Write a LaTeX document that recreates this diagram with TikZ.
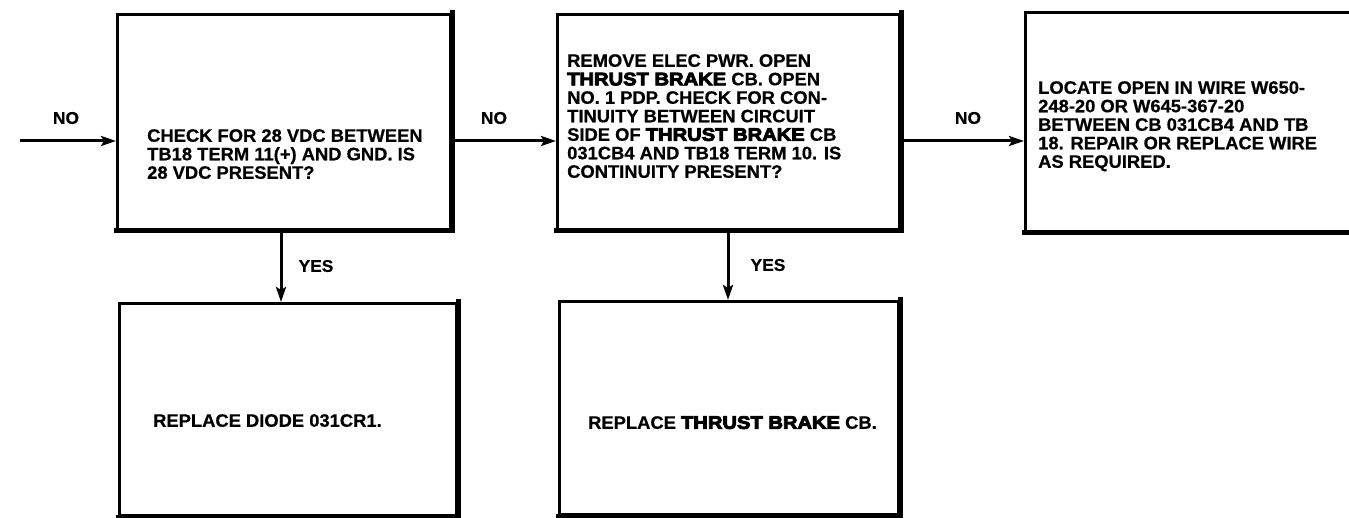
\documentclass[tikz,border=0pt]{standalone}
\usepackage{fontspec}
\setmainfont{Liberation Sans}[BoldFeatures={FakeBold=0.6,FakeStretch=1.02}]
\newfontfamily\heavyfont[FakeBold=5,FakeStretch=1.12]{Liberation Sans Bold}
\usetikzlibrary{arrows.meta}
\newcommand{\TB}{{\heavyfont THRUST BRAKE}}
\begin{document}
\begin{tikzpicture}[x=1pt,y=-1pt,
  box/.style={draw,line width=3pt,inner sep=0pt,anchor=north west},
  edge/.style={line width=5pt,line cap=rect},
  txt/.style={inner sep=0pt,anchor=north west,align=left,font=\bfseries\fontsize{18}{18.5}\selectfont},
  lbl/.style={inner sep=0pt,font=\bfseries\fontsize{17}{18}\selectfont},
  arr/.style={line width=3pt,-{Stealth[length=15pt,width=10pt,inset=3pt]}}]
\useasboundingbox (0,0) rectangle (1349,518);
% boxes
\node[box,minimum width=333pt,minimum height=215pt] (b1) at (116,13) {};
\node[box,minimum width=342pt,minimum height=215pt] (b2) at (556,13) {};
\node[box,minimum width=345pt,minimum height=219pt] (b3) at (1024,11) {};
\node[box,minimum width=337pt,minimum height=212pt] (b4) at (118,302) {};
\node[box,minimum width=339pt,minimum height=213pt] (b5) at (558,300) {};
\foreach \b in {b1,b2,b4,b5}{\draw[edge] (\b.north east) -- (\b.south east) -- (\b.south west);}
\draw[edge] (b3.south east) -- (b3.south west);
% texts
\node[txt] (t1) at (147,129) {CHECK FOR 28 VDC BETWEEN\\TB18 TERM 11(+) AND GND. IS\\28 VDC PRESENT?};
\node[txt] (t2) at (567,54) {REMOVE ELEC PWR. OPEN\\\TB{} CB. OPEN\\NO. 1 PDP. CHECK FOR CON-\\TINUITY BETWEEN CIRCUIT\\SIDE OF \TB{} CB\\031CB4 AND TB18 TERM 10. IS\\CONTINUITY PRESENT?};
\node[txt] (t3) at (1038,81) {LOCATE OPEN IN WIRE W650-\\248-20 OR W645-367-20\\BETWEEN CB 031CB4 AND TB\\18. REPAIR OR REPLACE WIRE\\AS REQUIRED.};
\node[txt] (t4) at (153,414) {REPLACE DIODE 031CR1.};
\node[txt] (t5) at (588,416) {REPLACE \TB{} CB.};
% connectors
\coordinate (in) at (20,141);
\draw[arr] (in) -- (in -| b1.west);
\draw[arr] (b1.east |- in) -- (b2.west |- in);
\draw[arr] (b2.east |- in) -- (b3.west |- in);
\coordinate (c1) at (281,0);
\coordinate (c2) at (728,0);
\draw[arr] (c1 |- b1.south) -- (c1 |- b4.north);
\draw[arr] (c2 |- b2.south) -- (c2 |- b5.north);
% labels
\node[lbl] (no1) at (66,118) {NO};
\node[lbl] (no2) at (494,118) {NO};
\node[lbl] (no3) at (968,118) {NO};
\node[lbl] (yes1) at (316,266) {YES};
\node[lbl] (yes2) at (768,265) {YES};
\end{tikzpicture}
\end{document}
